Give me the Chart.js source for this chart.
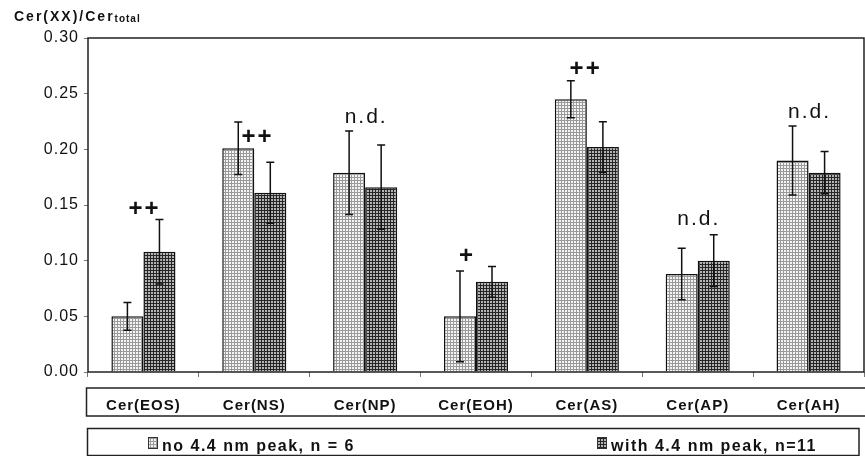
<!DOCTYPE html>
<html><head><meta charset="utf-8">
<script src="https://cdn.jsdelivr.net/npm/chart.js@4/dist/chart.umd.min.js"></script>
<style>html,body{margin:0;padding:0;background:#fff}#wrap{width:865px;height:456px}</style>
</head><body><div id="wrap"><canvas id="c" width="865" height="456"></canvas></div>
<script>
// ---- data ----
const categories = ['Cer(EOS)','Cer(NS)','Cer(NP)','Cer(EOH)','Cer(AS)','Cer(AP)','Cer(AH)'];
const seriesNames = ['no 4.4 nm peak, n = 6','with 4.4 nm peak, n=11'];
const noPeak     = [0.050, 0.201, 0.179, 0.050, 0.245, 0.088, 0.190];
const noPeakSD   = [0.0125,0.0235,0.0375,0.0407,0.0167,0.0232,0.031];
const withPeak   = [0.108, 0.161, 0.166, 0.081, 0.202, 0.100, 0.179];
const withPeakSD = [0.029, 0.0275,0.0378,0.0138,0.0228,0.0232,0.019];
const marks      = ['++', '++', 'n.d.', '+', '++', 'n.d.', 'n.d.'];
const markValues = [0.140, 0.205, 0.224, 0.098, 0.266, 0.132, 0.228];
const markShift  = [0, 0.02, 0, -0.09, -0.02, 0, 0];
const yMin = 0, yMax = 0.30, yStep = 0.05;
const yTitle = 'Cer(XX)/Cer';
const yTitleSub = 'total';

function makePattern(bg, line) {
  const p = document.createElement('canvas');
  p.width = 3; p.height = 3;
  const g = p.getContext('2d');
  g.fillStyle = bg; g.fillRect(0,0,3,3);
  g.fillStyle = line; g.fillRect(0,0,3,1); g.fillRect(0,0,1,3);
  return document.getElementById('c').getContext('2d').createPattern(p,'repeat');
}
const lightFill = makePattern('#f4f4f4', '#9a9a9a');
const darkFill  = makePattern('#b4b4b4', '#262626');
const sds = [noPeakSD, withPeakSD];

Chart.defaults.font.family = '"Liberation Sans", Arial, sans-serif';
Chart.defaults.color = '#111';

const decor = {
  id: 'decor',
  beforeDraw(chart) { chart.ctx.letterSpacing = '1px'; },
  afterDatasetsDraw(chart) {
    const ctx = chart.ctx, ys = chart.scales.y;
    ctx.save();
    ctx.strokeStyle = '#111'; ctx.lineWidth = 1.5;
    chart.data.datasets.forEach((ds, i) => {
      const meta = chart.getDatasetMeta(i);
      meta.data.forEach((el, j) => {
        const v = ds.data[j], sd = sds[i][j];
        const x = el.x, y1 = ys.getPixelForValue(v + sd), y2 = ys.getPixelForValue(v - sd);
        ctx.beginPath();
        ctx.moveTo(x, y1); ctx.lineTo(x, y2);
        ctx.moveTo(x - 4, y1); ctx.lineTo(x + 4, y1);
        ctx.moveTo(x - 4, y2); ctx.lineTo(x + 4, y2);
        ctx.stroke();
      });
    });
    ctx.restore();
  },
  afterDraw(chart) {
    const ctx = chart.ctx, a = chart.chartArea, xs = chart.scales.x, ys = chart.scales.y;
    ctx.save();
    // plot frame
    ctx.strokeStyle = '#222'; ctx.lineWidth = 1.5;
    ctx.strokeRect(a.left, a.top, a.right - a.left, a.bottom - a.top);
    // category box
    ctx.strokeRect(86.5, 388, 780, 28);
    // legend box
    ctx.strokeRect(87.5, 428.5, 771.5, 27);
    // annotations
    ctx.fillStyle = '#111';
    ctx.textAlign = 'center'; ctx.textBaseline = 'alphabetic';
    marks.forEach((m, j) => {
      const cx = xs.getPixelForValue(j) + markShift[j] * (xs.getPixelForValue(1) - xs.getPixelForValue(0));
      const y = ys.getPixelForValue(markValues[j]);
      if (m === 'n.d.') { ctx.font = '21px "Liberation Sans", Arial, sans-serif'; ctx.letterSpacing = '2px'; }
      else { ctx.font = 'bold 24px "Liberation Sans", Arial, sans-serif'; ctx.letterSpacing = '2px'; }
      ctx.fillText(m, cx + 1, y);
    });
    // y title
    ctx.textAlign = 'left';
    ctx.font = 'bold 14px "Liberation Sans", Arial, sans-serif'; ctx.letterSpacing = '2px';
    ctx.fillText(yTitle, 14, 21);
    const w = ctx.measureText(yTitle).width;
    ctx.font = 'bold 10px "Liberation Sans", Arial, sans-serif'; ctx.letterSpacing = '1px';
    ctx.fillText(yTitleSub, 14 + w, 22);
    // legend
    const legX = [148, 597];
    chart.data.datasets.forEach((ds, i) => {
      ctx.fillStyle = ds.backgroundColor;
      ctx.fillRect(legX[i], 437, 10, 12);
      ctx.strokeStyle = '#333'; ctx.lineWidth = 1;
      ctx.strokeRect(legX[i] + 0.5, 437.5, 9, 11);
      ctx.fillStyle = '#111';
      ctx.font = 'bold 16px "Liberation Sans", Arial, sans-serif'; ctx.letterSpacing = '1.5px';
      ctx.fillText(ds.label, legX[i] + 14, 451);
    });
    ctx.restore();
  }
};

new Chart(document.getElementById('c'), {
  type: 'bar',
  data: {
    labels: categories,
    datasets: [
      { label: seriesNames[0], data: noPeak, backgroundColor: lightFill, borderColor: '#111', borderWidth: 1.5 },
      { label: seriesNames[1], data: withPeak, backgroundColor: darkFill, borderColor: '#111', borderWidth: 1.5 }
    ]
  },
  options: {
    responsive: false, animation: false, devicePixelRatio: 1,
    layout: { padding: { top: 38, right: 1, left: 0, bottom: 0 } },
    datasets: { bar: { categoryPercentage: 0.578, barPercentage: 1.0 } },
    plugins: { legend: { display: false }, tooltip: { enabled: false } },
    scales: {
      x: {
        grid: { drawOnChartArea: false, tickLength: 5, color: '#777', offset: true },
        border: { display: false },
        ticks: { font: { size: 15, weight: 'bold' }, padding: 20, color: '#111' },
        afterFit(s) { s.height = 84; }
      },
      y: {
        min: yMin, max: yMax,
        grid: { drawOnChartArea: false, tickLength: 4, color: '#777' },
        border: { display: false },
        ticks: { stepSize: yStep, font: { size: 16 }, padding: 5, color: '#111',
                 callback: v => Number(v).toFixed(2) },
        afterFit(s) { s.width = 88; }
      }
    }
  },
  plugins: [decor]
});
</script></body></html>
